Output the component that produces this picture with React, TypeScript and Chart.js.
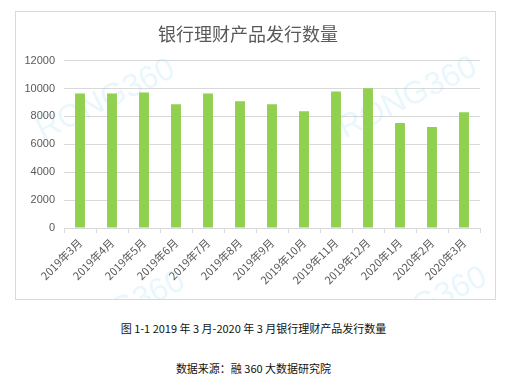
import React, { useEffect, useRef } from "react";
import { Chart, registerables } from "chart.js";

Chart.register(...registerables);

const categories = [
  "2019年3月", "2019年4月", "2019年5月", "2019年6月", "2019年7月", "2019年8月", "2019年9月",
  "2019年10月", "2019年11月", "2019年12月", "2020年1月", "2020年2月", "2020年3月",
];
const issuance = [9650, 9650, 9720, 8870, 9650, 9080, 8870, 8370, 9790, 10020, 7530, 7240, 8300];
const yTicks = [0, 2000, 4000, 6000, 8000, 10000, 12000];
const title = "银行理财产品发行数量";
const caption = "图 1-1 2019 年 3 月-2020 年 3 月银行理财产品发行数量";
const source = "数据来源：融 360 大数据研究院";
const watermarkText = "RONG360";

const watermarkPlugin = {
  id: "watermark",
  beforeDatasetsDraw(chart: any) {
    const ctx = chart.ctx;
    const spots = [
      [90, 88],
      [392, 86],
      [100, 300],
      [402, 296],
    ];
    ctx.save();
    ctx.font = "32px 'Liberation Sans', Arial, sans-serif";
    ctx.fillStyle = "rgba(120, 205, 240, 0.16)";
    ctx.textAlign = "center";
    ctx.textBaseline = "middle";
    for (const [x, y] of spots) {
      ctx.save();
      ctx.translate(x, y);
      ctx.rotate(-0.45);
      ctx.fillText(watermarkText, 0, 0);
      ctx.restore();
    }
    ctx.restore();
  },
};

export default function App() {
  const ref = useRef<HTMLCanvasElement | null>(null);
  useEffect(() => {
    if (!ref.current) return;
    const chart = new Chart(ref.current, {
      type: "bar",
      data: {
        labels: categories,
        datasets: [
          {
            data: issuance,
            backgroundColor: "#92d050",
            barPercentage: 0.31,
            categoryPercentage: 1,
          },
        ],
      },
      options: {
        animation: false,
        responsive: false,
        maintainAspectRatio: false,
        layout: { padding: { left: 0, right: 15, top: 0, bottom: 0 } },
        plugins: {
          legend: { display: false },
          tooltip: { enabled: false },
          title: {
            display: true,
            text: title,
            color: "#595959",
            font: { size: 18, family: "'Noto Sans CJK SC', sans-serif", weight: "normal" },
            padding: { top: 11, bottom: 16 },
          },
        },
        scales: {
          x: {
            grid: {
              offset: true,
              drawOnChartArea: false,
              drawTicks: true,
              tickLength: 5,
              color: "#d9d9d9",
            },
            border: { color: "#d9d9d9" },
            ticks: {
              color: "#595959",
              maxRotation: 45,
              minRotation: 45,
              autoSkip: false,
              padding: 3,
              font: { size: 11, family: "'Noto Sans CJK SC', sans-serif" },
            },
            afterFit(scale: any) {
              scale.height = 71;
            },
          },
          y: {
            min: 0,
            max: 12000,
            afterBuildTicks(scale: any) {
              scale.ticks = yTicks.map((v) => ({ value: v }));
            },
            grid: { color: "#d9d9d9", drawTicks: false },
            border: { display: false },
            ticks: {
              color: "#595959",
              padding: 9,
              font: { size: 11, family: "'Liberation Sans', Arial, sans-serif" },
              callback: (v: any) => String(v),
            },
            afterFit(scale: any) {
              scale.width = 48;
            },
          },
        },
      },
      plugins: [watermarkPlugin],
    } as any);
    return () => chart.destroy();
  }, []);

  return (
    <div
      style={{
        position: "absolute",
        left: 0,
        top: 0,
        width: 507,
        height: 381,
        background: "#fff",
        fontFamily: "'Noto Sans CJK SC', sans-serif",
      }}
    >
      <div
        style={{
          position: "absolute",
          left: 15,
          top: 11,
          width: 481,
          height: 289,
          border: "1px solid #d9d9d9",
          boxSizing: "border-box",
        }}
      >
        <canvas ref={ref} width={479} height={287} style={{ display: "block" }} />
      </div>
      <div
        style={{
          position: "absolute",
          left: 0,
          width: 507,
          top: 320,
          textAlign: "center",
          fontSize: 11,
          lineHeight: "16px",
          color: "#111",
        }}
      >
        {caption}
      </div>
      <div
        style={{
          position: "absolute",
          left: 0,
          width: 507,
          top: 360,
          textAlign: "center",
          fontSize: 11,
          lineHeight: "16px",
          color: "#111",
        }}
      >
        {source}
      </div>
    </div>
  );
}
